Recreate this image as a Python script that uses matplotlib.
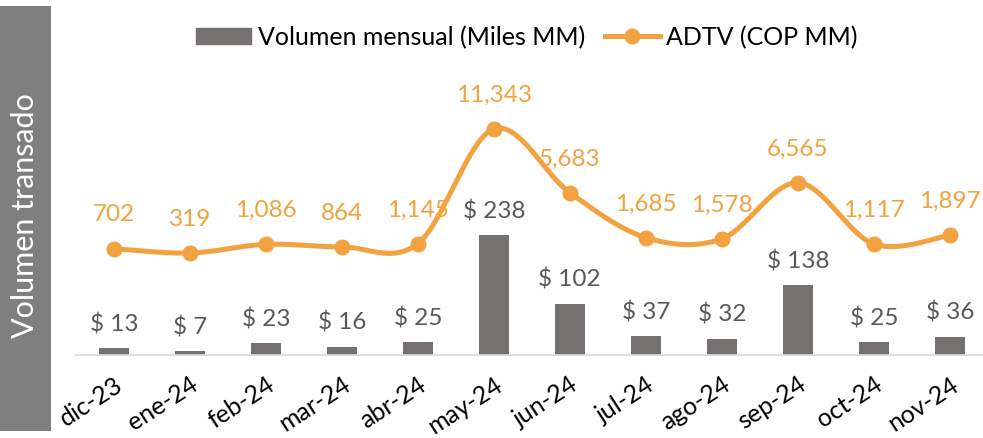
import numpy as np
import matplotlib
matplotlib.use("Agg")
import matplotlib.pyplot as plt
from matplotlib.patches import Rectangle
from matplotlib.lines import Line2D

months = ["dic-23", "ene-24", "feb-24", "mar-24", "abr-24", "may-24",
          "jun-24", "jul-24", "ago-24", "sep-24", "oct-24", "nov-24"]
volumen = [13, 7, 23, 16, 25, 238, 102, 37, 32, 138, 25, 36]
adtv = [702, 319, 1086, 864, 1145, 11343, 5683, 1685, 1578, 6565, 1117, 1897]

BAR_C = "#767171"
LINE_C = "#F2A23F"
LBL_C = "#595959"
FONT = ["Lato", "DejaVu Sans"]
plt.rcParams["font.family"] = FONT

W, H = 983, 439
fig = plt.figure(figsize=(W / 100, H / 100), dpi=100)

# left gray band
band = fig.add_axes([0, 7 / H, 51 / W, (432 - 7) / H])
band.set_facecolor("#7F7F7F")
band.set_xticks([]); band.set_yticks([])
for s in band.spines.values():
    s.set_visible(False)
band.text(0.5, 0.51, "Volumen transado", rotation=90, color="white",
          fontsize=22, ha="center", va="center", transform=band.transAxes)

left, right = 75.8, 983
top, bottom = 80, 356
ax = fig.add_axes([left / W, 1 - bottom / H, (right - left) / W, (bottom - top) / H])
x = np.arange(len(months))
ax.set_xlim(-0.5, (right - 113.8) / 76)
ax.set_ylim(0, 547.6)
ax.bar(x, volumen, width=0.4, color=BAR_C, zorder=2)
for xi, v in zip(x, volumen):
    ax.annotate(f"$ {v}", (xi, v), xytext=(0, 18), textcoords="offset points",
                ha="center", va="center", fontsize=17.5, color=LBL_C)
for s in ["top", "right", "left"]:
    ax.spines[s].set_visible(False)
ax.spines["bottom"].set_color("#D9D9D9")
ax.spines["bottom"].set_linewidth(1.2)
ax.set_yticks([])
ax.set_xticks(x)
ax.set_xticklabels(months, rotation=33, ha="right", rotation_mode="anchor",
                   fontsize=18, color="black")
ax.tick_params(axis="x", length=0, pad=12)

ax2 = ax.twinx()
ax2.set_ylim(-8747, 15786)
ax2.set_yticks([])
for s in ax2.spines.values():
    s.set_visible(False)

# Bezier smoothing of the line (rendering style only, passes through data points)
def smooth(xs, ys, n=30):
    P = np.column_stack([np.asarray(xs, float), np.asarray(ys, float)])
    P = np.vstack([P[0], P, P[-1]])
    out = []
    for i in range(1, len(P) - 2):
        p0, p1, p2, p3 = P[i - 1], P[i], P[i + 1], P[i + 2]
        b1 = p1 + (p2 - p0) / 6
        b2 = p2 - (p3 - p1) / 6
        t = np.linspace(0, 1, n)[:, None]
        seg = (1 - t) ** 3 * p1 + 3 * (1 - t) ** 2 * t * b1 + 3 * (1 - t) * t ** 2 * b2 + t ** 3 * p2
        out.append(seg if i == 1 else seg[1:])
    out = np.vstack(out)
    return out[:, 0], out[:, 1]

sx, sy = smooth(x, adtv)
ax2.plot(sx, sy, color=LINE_C, lw=3.6, solid_capstyle="round", zorder=3)
ax2.plot(x, adtv, "o", color=LINE_C, ms=10.5, zorder=4)
for xi, v in zip(x, adtv):
    ax2.annotate(f"{v:,}", (xi, v), xytext=(0, 25), textcoords="offset points",
                 ha="center", va="center", fontsize=17.5, color=LINE_C)

handles = [Rectangle((0, 0), 1, 1, color=BAR_C),
           Line2D([0], [0], color=LINE_C, lw=3.6, marker="o", ms=10.5)]
fig.legend(handles, ["Volumen mensual (Miles MM)", "ADTV (COP MM)"],
           loc="center", bbox_to_anchor=(527 / W, 1 - 38 / H), ncol=2,
           frameon=False, fontsize=18, handlelength=2.2, handleheight=0.6,
           handletextpad=0.25, columnspacing=0.8)

fig.savefig("out.png", dpi=100)
